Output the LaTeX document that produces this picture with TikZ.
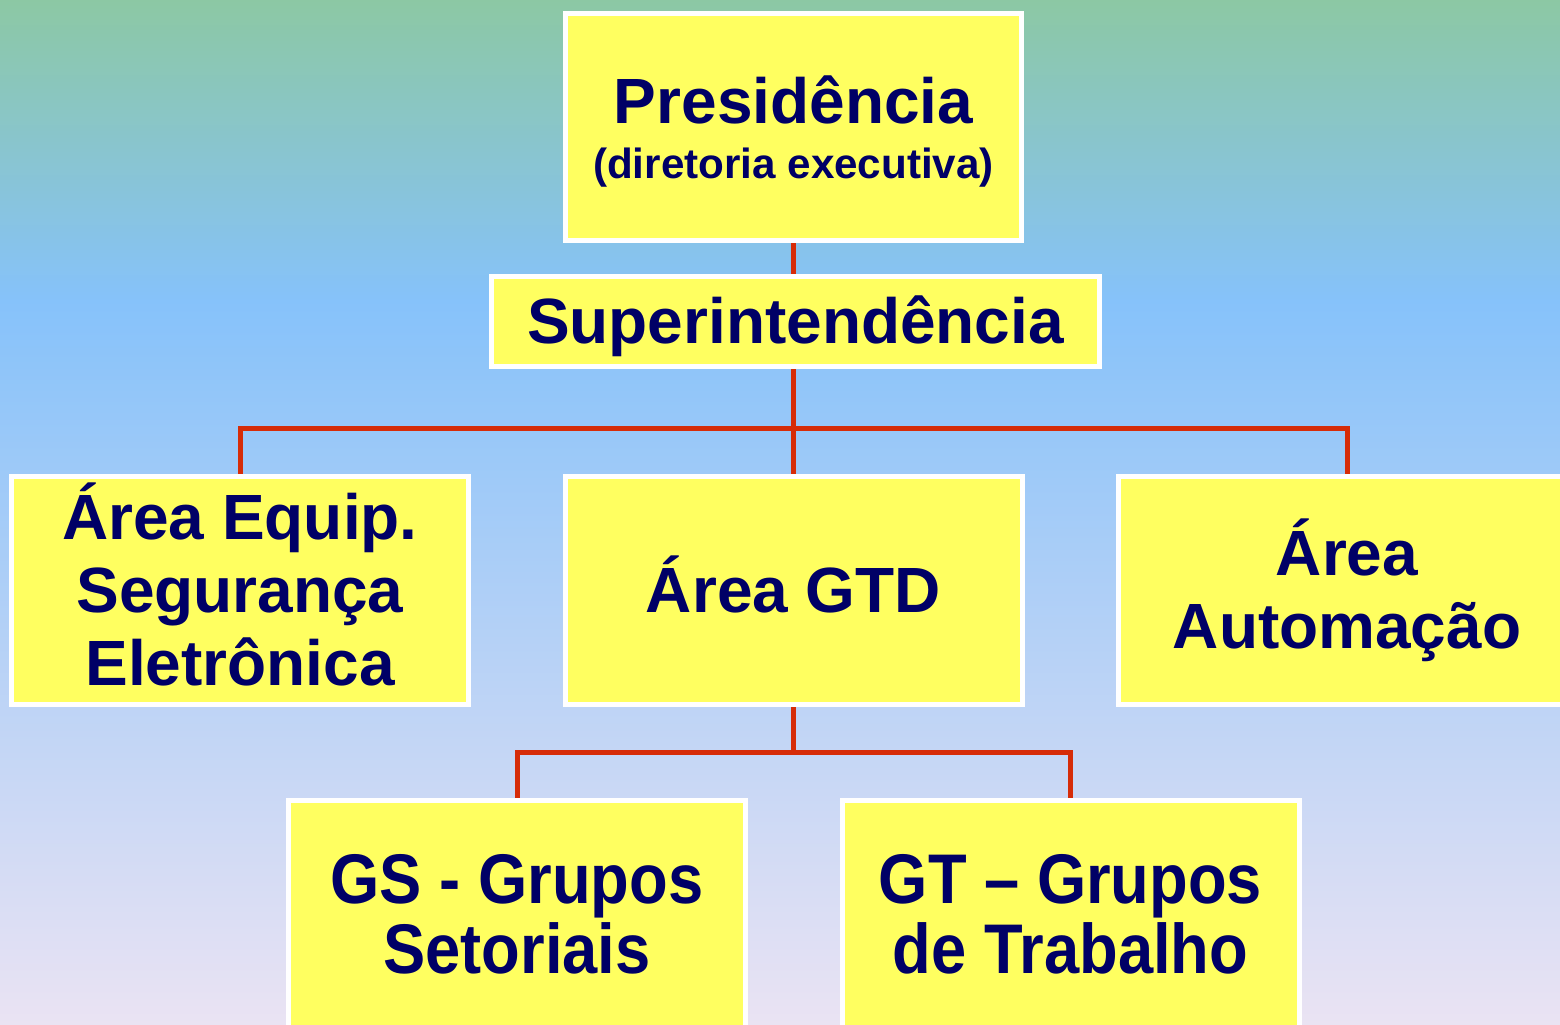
\documentclass[tikz,border=0pt]{standalone}
\usepackage[RGB]{xcolor}
\usepackage{fontspec}
\setmainfont{Liberation Sans}
\newfontfamily\narrowfont[FakeStretch=0.9,Ligatures=TeX]{Liberation Sans}
\usepackage{tikz}
\definecolor{bgtop}{RGB}{140,200,164}
\definecolor{bgmid}{RGB}{134,194,250}
\definecolor{bgbot}{RGB}{234,227,243}
\definecolor{boxfill}{RGB}{255,255,96}
\definecolor{navy}{RGB}{0,0,102}
\definecolor{linkred}{RGB}{214,44,8}
\newcommand{\bigtext}{\fontsize{18.2}{20.8}\selectfont\bfseries}
\newcommand{\smalltext}{\fontsize{12}{15}\selectfont\bfseries}
\newcommand{\lowtext}{\narrowfont\fontsize{20}{19.9}\selectfont\bfseries}

\begin{document}
\begin{tikzpicture}[
    orgbox/.style={rectangle, fill=boxfill, draw=white, line width=0.05cm,
      inner sep=0pt, minimum width=4.57cm, minimum height=2.28cm,
      align=center, text=navy},
    link/.style={draw=linkred, line width=0.05cm}
  ]
\useasboundingbox (0,0) rectangle (15.6,-10.24);
\clip (0,0) rectangle (15.6,-10.24);
% background
\shade[top color=bgtop, bottom color=bgmid] (0,0) rectangle (15.6,-3.0);
\shade[top color=bgmid, bottom color=bgbot] (0,-3.0) rectangle (15.6,-10.24);

% boxes
\node[orgbox, minimum width=4.56cm, minimum height=2.27cm, font=\bigtext, text depth=0cm] (pres) at (7.935,-1.27)
  {Presid\^encia\\[-0.18cm]{\smalltext (diretoria executiva)}};
\node[orgbox, minimum width=6.08cm, minimum height=0.90cm, font=\bigtext, text depth=0.03cm] (super) at (7.955,-3.215) {Superintend\^encia};
\node[orgbox, font=\bigtext, text depth=0.12cm] (seg) at (2.40,-5.905) {\'Area Equip.\\Seguran\c{c}a\\Eletr\^onica};
\node[orgbox, font=\bigtext, text depth=0.12cm] (gtd) at (7.935,-5.905) {\'Area GTD};
\node[orgbox, font=\bigtext] (auto) at (13.47,-5.905) {\'Area\\Automa\c{c}\~ao};
\node[orgbox, font=\lowtext] (gs) at (5.17,-9.145) {GS - Grupos\\Setoriais};
\node[orgbox, font=\lowtext] (gt) at (10.705,-9.145) {GT – Grupos\\de Trabalho};

% connectors
\coordinate (busA) at (7.935,-4.28);
\coordinate (busB) at (7.935,-7.52);
\draw[link] (pres.south) -- (pres.south |- super.north);
\draw[link] (pres.south |- super.south) -- (busA) -- (gtd.north);
\draw[link] (busA) -| (seg.north);
\draw[link] (busA) -| (auto.north);
\draw[link] (gtd.south) -- (busB);
\draw[link] (busB) -| (gs.north);
\draw[link] (busB) -| (gt.north);
\end{tikzpicture}
\end{document}
